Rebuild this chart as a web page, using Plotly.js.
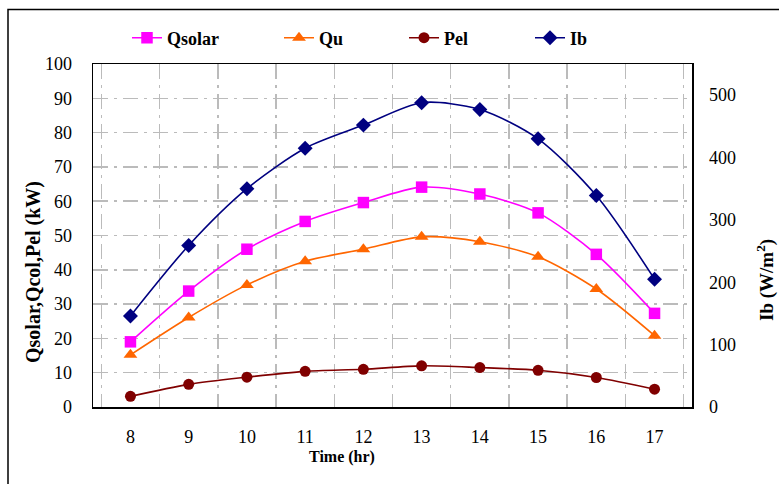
<!DOCTYPE html>
<html>
<head>
<meta charset="utf-8">
<script src="https://cdn.plot.ly/plotly-3.0.1.min.js"></script>
<style>html,body{margin:0;padding:0;background:#fff;}#chart{width:779px;height:484px;}</style>
</head>
<body>
<div id="chart"></div>
<script>
// ---- data ----
const hours = ['8','9','10','11','12','13','14','15','16','17'];
const qsolar = [19.0, 33.8, 46.0, 54.1, 59.6, 64.1, 62.1, 56.6, 44.5, 27.3];
const qu     = [15.2, 26.1, 35.6, 42.5, 46.0, 49.6, 48.2, 43.8, 34.4, 20.8];
const pel    = [3.1, 6.6, 8.7, 10.4, 11.0, 12.0, 11.5, 10.7, 8.6, 5.2];
const ib     = [146, 259, 350, 415, 452, 488, 477, 430, 339, 205];
const leftTicks = [0,10,20,30,40,50,60,70,80,90,100];
const rightTicks = [0,100,200,300,400,500];

const serif = 'Liberation Serif';

function tr(name, y, color, sym, size, yaxis, legend) {
  return {
    x: hours, y: y, name: name, type: 'scatter', mode: 'lines+markers',
    yaxis: yaxis, legend: legend,
    line: {color: color, width: 1.6, shape: 'spline', smoothing: 0.8},
    marker: {color: color, symbol: sym, size: size}
  };
}

const data = [
  tr('Qsolar', qsolar, '#FF00FF', 'square', 11.5, 'y', 'legend'),
  tr('Qu', qu, '#FF6600', 'triangle-up', 12, 'y', 'legend2'),
  tr('Pel', pel, '#800000', 'circle', 11, 'y', 'legend3'),
  tr('Ib', ib, '#000080', 'diamond', 11.5, 'y2', 'legend4')
];

const gridColor = '#BBBBBB';
const gridDash = 'longdashdot';

function leg(xpx) {
  return {
    orientation: 'h', x: (xpx - 93) / 599, xanchor: 'left',
    y: (407 - 38) / 343, yanchor: 'middle',
    font: {family: serif, size: 18, color: '#000', weight: 'bold'},
    bgcolor: 'rgba(0,0,0,0)', borderwidth: 0
  };
}

const layout = {
  width: 779, height: 484,
  margin: {l: 93, r: 87, t: 64, b: 77},
  paper_bgcolor: '#fff', plot_bgcolor: '#fff',
  font: {family: serif, size: 18, color: '#000'},
  showlegend: true,
  legend: leg(127),
  legend2: leg(279),
  legend3: leg(404),
  legend4: leg(530),
  xaxis: {
    type: 'category', tickson: 'boundaries',
    showgrid: true, gridcolor: gridColor, gridwidth: 1.5, griddash: gridDash,
    showline: true, linecolor: '#000', linewidth: 1.5, mirror: true,
    ticks: '', ticklabelstandoff: 13, zeroline: false,
    tickfont: {family: serif, size: 18, color: '#000'}
  },
  yaxis: {
    range: [0, 100], tickvals: leftTicks,
    showgrid: true, gridcolor: gridColor, gridwidth: 1.5, griddash: gridDash,
    showline: true, linecolor: '#000', linewidth: 1.5, mirror: true,
    ticks: '', ticklabelstandoff: 16, zeroline: false,
    tickfont: {family: serif, size: 18, color: '#000'}
  },
  yaxis2: {
    range: [0, 550], tickvals: rightTicks, overlaying: 'y', side: 'right',
    showgrid: false, zeroline: false, showline: false,
    ticks: '', ticklabelstandoff: 16,
    tickfont: {family: serif, size: 18, color: '#000'}
  },
  annotations: [
    {text: '<b>Qsolar,Qcol,Pel (kW)</b>', xref: 'paper', yref: 'paper',
     x: (33 - 93) / 599, y: (407 - 272) / 343, xanchor: 'center', yanchor: 'middle',
     textangle: -90, showarrow: false, font: {family: serif, size: 20, color: '#000'}},
    {text: '<b>Ib (W/m<sup>2</sup>)</b>', xref: 'paper', yref: 'paper',
     x: (765 - 93) / 599, y: (407 - 280) / 343, xanchor: 'center', yanchor: 'middle',
     textangle: -90, showarrow: false, font: {family: serif, size: 19, color: '#000'}},
    {text: '<b>Time (hr)</b>', xref: 'paper', yref: 'paper',
     x: (342 - 93) / 599, y: (407 - 457) / 343, xanchor: 'center', yanchor: 'middle',
     showarrow: false, font: {family: serif, size: 16, color: '#000'}}
  ],
  shapes: [
    {type: 'rect', xref: 'paper', yref: 'paper',
     x0: (8 - 93) / 599, x1: 1.4, y0: -0.5, y1: (407 - 9.5) / 343,
     line: {color: '#000', width: 1.5}, fillcolor: 'rgba(0,0,0,0)', layer: 'below'}
  ]
};

Plotly.newPlot('chart', data, layout, {displayModeBar: false, staticPlot: true});
</script>
</body>
</html>
